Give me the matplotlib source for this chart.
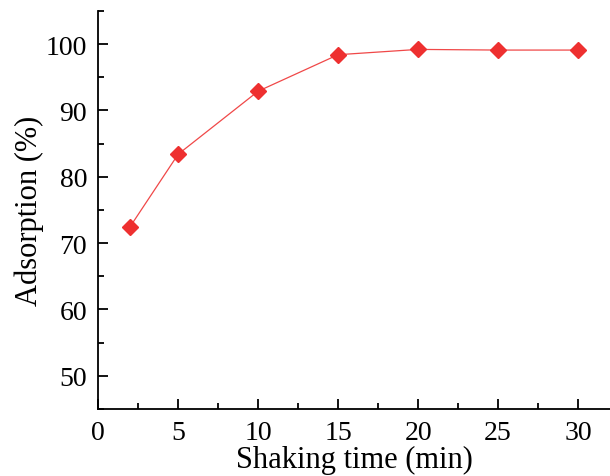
import matplotlib
matplotlib.use("Agg")
import matplotlib.pyplot as plt
from matplotlib.ticker import MultipleLocator

time_min = [2, 5, 10, 15, 20, 25, 30]
adsorption = [72.5, 83.4, 92.9, 98.4, 99.2, 99.1, 99.1]

plt.rcParams['font.family'] = ['Liberation Serif', 'DejaVu Serif']

fig = plt.figure(figsize=(6.10, 4.77), dpi=100)
ax = fig.add_axes([0.161, 0.1405, 0.839, 0.8345])
ax.plot(time_min, adsorption, color='#f04848', lw=0.9, marker='D',
        markersize=8.5, markerfacecolor='#ee3030', markeredgecolor='#ee3030')
ax.set_xlim(0, 32)
ax.set_ylim(45, 105)
ax.xaxis.set_major_locator(MultipleLocator(5))
ax.xaxis.set_minor_locator(MultipleLocator(2.5))
ax.yaxis.set_major_locator(MultipleLocator(10))
ax.yaxis.set_minor_locator(MultipleLocator(5))
ax.set_yticks([50, 60, 70, 80, 90, 100])
ax.spines['top'].set_visible(False)
ax.spines['right'].set_visible(False)
for s in ['left', 'bottom']:
    ax.spines[s].set_linewidth(1.3)
ax.tick_params(which='major', direction='in', length=7, width=1.3, labelsize=20, pad=8)
ax.tick_params(which='minor', direction='in', length=4, width=1.3)
ax.set_xlabel('Shaking time (min)', fontsize=22, labelpad=0)
ax.set_ylabel('Adsorption (%)', fontsize=22, labelpad=1)
fig.savefig('out.png', dpi=100)
